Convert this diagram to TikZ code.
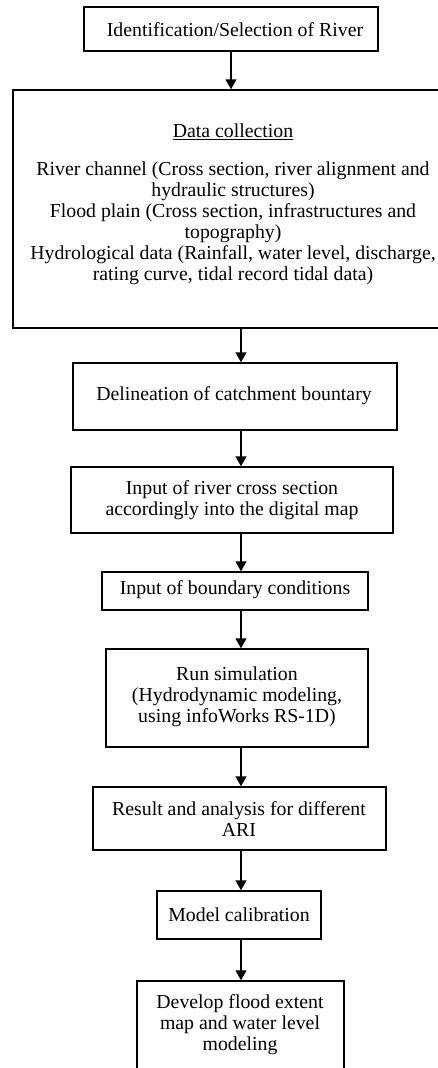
\documentclass[tikz,border=0pt]{standalone}
\usepackage{fontspec}
\setmainfont{Liberation Serif}
\usetikzlibrary{arrows.meta}
\tikzset{
  box/.style={draw=black, line width=1.5pt, rectangle, inner sep=0pt},
  txt/.style={align=center, inner sep=0pt, font=\fontsize{19.8}{21}\selectfont},
  arr/.style={line width=1.5pt, -{Triangle[width=11pt,length=10pt]}},
}
\begin{document}
\begin{tikzpicture}[x=1pt,y=-1pt]
\useasboundingbox (0,0) rectangle (438,1068);
\clip (0,0) rectangle (438,1068);
\coordinate (axis) at (241,0);
% boxes
\node[box, minimum width=294pt, minimum height=44pt] (b1) at (231,29) {};
\node[box, minimum width=440pt, minimum height=238pt] (b2) at (233,209) {};
\node[box, minimum width=324pt, minimum height=67pt] (b3) at (235,396.5) {};
\node[box, minimum width=322pt, minimum height=66pt] (b4) at (232,500) {};
\node[box, minimum width=266pt, minimum height=38pt] (b5) at (235,591) {};
\node[box, minimum width=262pt, minimum height=98pt] (b6) at (237,698) {};
\node[box, minimum width=293pt, minimum height=63pt] (b7) at (239.5,818.5) {};
\node[box, minimum width=164pt, minimum height=48pt] (b8) at (239,915) {};
\node[box, minimum width=207pt, minimum height=94pt] (b9) at (240.5,1028) {};
% texts
\node[txt] (t1) at (235,30) {Identification/Selection of River};
\node[txt] (t2) at (233,204) {\underline{Data collection}\\[17pt]
River channel (Cross section, river alignment and\\
hydraulic structures)\\
Flood plain (Cross section, infrastructures and\\
topography)\\
Hydrological data (Rainfall, water level, discharge,\\
rating curve, tidal record tidal data)};
\node[txt] (t3) at (234,396) {Delineation of catchment bountary};
\node[txt] (t4) at (232,500) {Input of river cross section\\accordingly into the digital map};
\node[txt] (t5) at (235,590) {Input of boundary conditions};
\node[txt] (t6) at (237,697) {Run simulation\\(Hydrodynamic modeling,\\using infoWorks RS-1D)};
\node[txt] (t7) at (239,819) {Result and analysis for different\\ARI};
\node[txt] (t8) at (239,915) {Model calibration};
\node[txt] (t9) at (240,1025) {Develop flood extent\\map and water level\\modeling};
% arrows
\draw[arr] (b1.south) -- (b1.south |- b2.north);
\draw[arr] (b2.south -| axis) -- (b3.north -| axis);
\draw[arr] (b3.south -| axis) -- (b4.north -| axis);
\draw[arr] (b4.south -| axis) -- (b5.north -| axis);
\draw[arr] (b5.south -| axis) -- (b6.north -| axis);
\draw[arr] (b6.south -| axis) -- (b7.north -| axis);
\draw[arr] (b7.south -| axis) -- (b8.north -| axis);
\draw[arr] (b8.south -| axis) -- (b9.north -| axis);
\end{tikzpicture}
\end{document}
